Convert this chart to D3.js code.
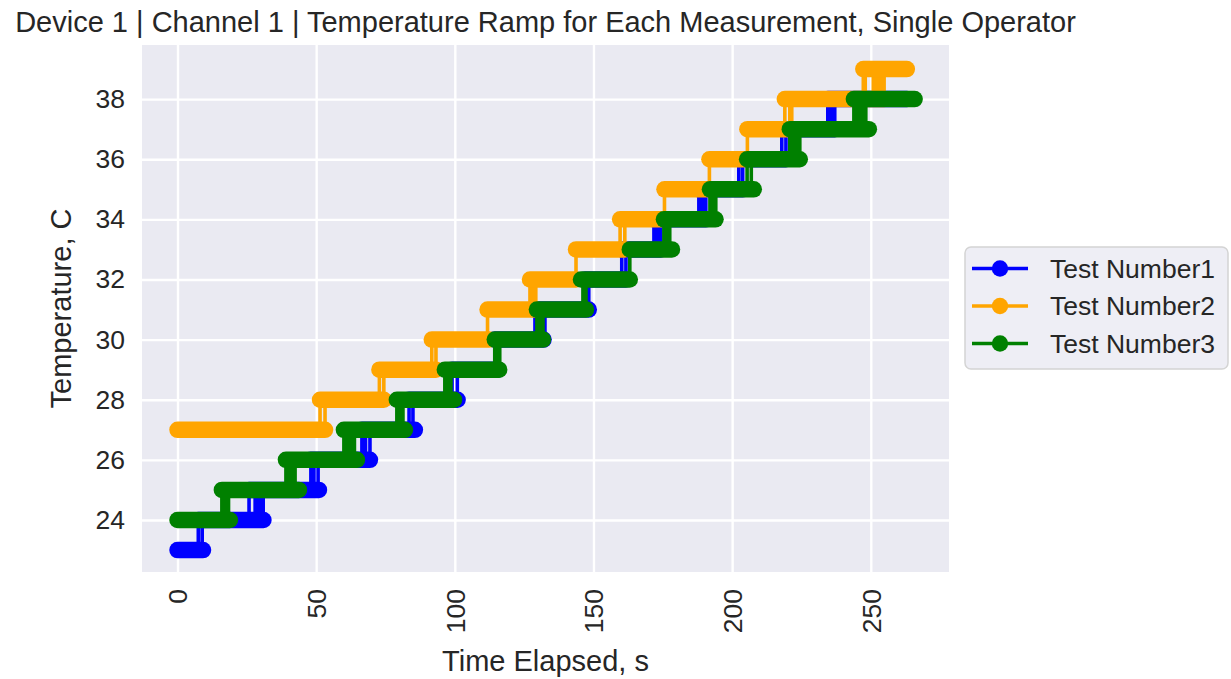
<!DOCTYPE html>
<html>
<head>
<meta charset="utf-8">
<script src="https://cdn.jsdelivr.net/npm/d3@7"></script>
<style>
  body { margin: 0; background: #fff; }
  text { font-family: "Liberation Sans", Arial, sans-serif; fill: #262626; }
  .grid line { stroke: #fff; stroke-width: 2.4; }
  .grid .domain { display: none; }
</style>
</head>
<body>
<svg id="chart" width="1231" height="679"></svg>
<script>
const xTicks = [0, 50, 100, 150, 200, 250];
const yTicks = [24, 26, 28, 30, 32, 34, 36, 38];
const seriesNames = ["Test Number1", "Test Number2", "Test Number3"];
const seriesColors = ["blue", "orange", "green"];

// plateaus: [temperature, first second, last second]
const test1Levels = [
  [23, 0, 9.2], [24, 7.5, 31], [25, 25.8, 51], [26, 48, 69.4], [27, 66.5, 85.6],
  [28, 83.5, 101], [29, 99, 115.5], [30, 114.5, 132], [31, 129, 148.3], [32, 147, 161.7],
  [33, 160.2, 174.3], [34, 171.8, 190.5], [35, 188, 203.8], [36, 202.4, 219.4],
  [37, 218, 237], [38, 234.5, 263]
];
// steps: [from temperature, seconds where it jumps to the next degree]
const test1Steps = [
  [23, [7.5, 8.9]], [24, [25.8, 28.0, 29.0, 30.1, 30.9]], [25, [48.1, 49.2, 50.7]],
  [26, [66.5, 67.8, 69.4]], [27, [83.5, 84.9]], [28, [99.0, 100.9]], [29, [114.5, 115.5]],
  [30, [128.9, 130.1, 131.4, 132.5]], [31, [146.9, 148.3]], [32, [160.2, 161.7]],
  [33, [171.8, 173.0, 174.3]], [34, [188.0, 189.3, 190.5]], [35, [202.4, 203.8]],
  [36, [217.9, 219.4]], [37, [234.5, 235.8, 237.0]]
];

const test2Levels = [
  [27, 0, 53.2], [28, 51.4, 74.4], [29, 72.8, 93.2], [30, 91.7, 112.3], [31, 111.8, 129.2],
  [32, 127.1, 143.7], [33, 143.7, 161.3], [34, 159.6, 175.6], [35, 175.6, 191.8],
  [36, 191.8, 205.5], [37, 205.5, 221.5], [38, 219, 254.8], [39, 247.3, 263]
];
const test2Steps = [
  [27, [51.4, 53.2]], [28, [72.8, 74.4]], [29, [91.7, 93.2]], [30, [111.8]],
  [31, [127.1, 128.3, 129.2]], [32, [143.7]], [33, [159.6, 161.3]], [34, [175.6]],
  [35, [191.8]], [36, [205.5]], [37, [219.0, 220.8, 221.5]],
  [38, [247.3, 248.0, 250.9, 252.0, 253.1, 254.1, 254.8]]
];

const test3Levels = [
  [24, 0, 18.9], [25, 16, 43.8], [26, 39.1, 64.7], [27, 60, 82], [28, 79.1, 99.7],
  [29, 96.4, 116], [30, 114.4, 131.8], [31, 129.6, 147.3], [32, 145.5, 163.1],
  [33, 163.1, 178.3], [34, 175.4, 194], [35, 192, 207.8], [36, 205.4, 224.4],
  [37, 220.8, 249.3], [38, 243.9, 265.8]
];
const test3Steps = [
  [24, [16.0, 17.1, 18.4]], [25, [39.1, 40.4, 41.6, 42.4]], [26, [60.0, 61.3, 62.5, 63.8]],
  [27, [79.1, 80.4, 81.3]], [28, [96.4, 97.7, 98.6]], [29, [114.4, 115.3, 116.2]],
  [30, [129.6, 130.9, 131.8]], [31, [146.2, 147.3]], [32, [163.1]],
  [33, [175.4, 176.6, 177.5]], [34, [192.0, 193.2, 194.1]], [35, [205.4, 206.9]],
  [36, [220.8, 222.1, 223.3, 224.4]], [37, [243.9, 245.1, 246.4, 247.7, 248.2]]
];

const allLevels = [test1Levels, test2Levels, test3Levels];
const allSteps = [test1Steps, test2Steps, test3Steps];

const svg = d3.select("#chart");
const plot = { left: 142, right: 949, top: 45, bottom: 572 };

const x = d3.scaleLinear().domain([-12.8, 278.2]).range([plot.left, plot.right]);
const y = d3.scaleLinear().domain([22.27, 39.8]).range([plot.bottom, plot.top]);

svg.append("rect")
  .attr("x", plot.left).attr("y", plot.top)
  .attr("width", plot.right - plot.left).attr("height", plot.bottom - plot.top)
  .attr("fill", "#eaeaf2");

svg.append("g")
  .attr("class", "grid")
  .attr("transform", `translate(${plot.left},0)`)
  .call(d3.axisLeft(y).tickValues(yTicks).tickSize(-(plot.right - plot.left)).tickFormat(""));

svg.append("g")
  .attr("class", "grid")
  .attr("transform", `translate(0,${plot.bottom})`)
  .call(d3.axisBottom(x).tickValues(xTicks).tickSize(-(plot.bottom - plot.top)).tickFormat(""));

// tick labels
const yAxis = svg.append("g")
  .attr("transform", `translate(${plot.left},0)`)
  .call(d3.axisLeft(y).tickValues(yTicks).tickSize(0).tickPadding(17));
yAxis.select(".domain").remove();
yAxis.selectAll("text").style("font-size", "26.5px").attr("fill", "#262626");

const xAxis = svg.append("g")
  .attr("transform", `translate(0,${plot.bottom})`)
  .call(d3.axisBottom(x).tickValues(xTicks).tickSize(0));
xAxis.select(".domain").remove();
xAxis.selectAll("text")
  .style("font-size", "26.5px").attr("fill", "#262626")
  .attr("transform", "rotate(-90)")
  .attr("x", -17).attr("y", 0).attr("dy", "0.35em")
  .attr("text-anchor", "end");

// series: line first, then markers, one series at a time
allLevels.forEach((levels, i) => {
  const color = seriesColors[i];
  const g = svg.append("g");

  let linePath = "";
  levels.forEach(([t, a, b]) => {
    linePath += `M${x(a)},${y(t)}L${x(b)},${y(t)}`;
  });
  allSteps[i].forEach(([t, times]) => {
    times.forEach(s => {
      linePath += `M${x(s)},${y(t)}L${x(s)},${y(t + 1)}`;
    });
  });
  g.append("path")
    .attr("d", linePath)
    .attr("fill", "none")
    .attr("stroke", color)
    .attr("stroke-width", 3.6);

  g.selectAll("line.marker")
    .data(levels)
    .join("line")
    .attr("class", "marker")
    .attr("x1", d => x(d[1])).attr("x2", d => x(d[2]))
    .attr("y1", d => y(d[0])).attr("y2", d => y(d[0]))
    .attr("stroke", color)
    .attr("stroke-width", 16.5)
    .attr("stroke-linecap", "round");
});

// title and axis labels
svg.append("text")
  .attr("x", (plot.left + plot.right) / 2).attr("y", 32)
  .attr("text-anchor", "middle")
  .style("font-size", "29px")
  .text("Device 1 | Channel 1 | Temperature Ramp for Each Measurement, Single Operator");

svg.append("text")
  .attr("x", (plot.left + plot.right) / 2).attr("y", 671)
  .attr("text-anchor", "middle")
  .style("font-size", "29px")
  .text("Time Elapsed, s");

svg.append("text")
  .attr("transform", `translate(71,${(plot.top + plot.bottom) / 2}) rotate(-90)`)
  .attr("text-anchor", "middle")
  .style("font-size", "29px")
  .text("Temperature, C");

// legend
const legend = svg.append("g").attr("transform", "translate(965,247)");
legend.append("rect")
  .attr("width", 263).attr("height", 122).attr("rx", 6)
  .attr("fill", "#eeeef5").attr("stroke", "#d4d4d4").attr("stroke-width", 1.5);

seriesNames.forEach((name, i) => {
  const row = legend.append("g").attr("transform", `translate(0,${21.5 + i * 37.5})`);
  row.append("line")
    .attr("x1", 7).attr("x2", 63)
    .attr("stroke", seriesColors[i]).attr("stroke-width", 3.6);
  row.append("circle")
    .attr("cx", 35).attr("r", 8.2)
    .attr("fill", seriesColors[i]);
  row.append("text")
    .attr("x", 85).attr("dy", "0.35em")
    .style("font-size", "26.5px")
    .text(name);
});
</script>
</body>
</html>
